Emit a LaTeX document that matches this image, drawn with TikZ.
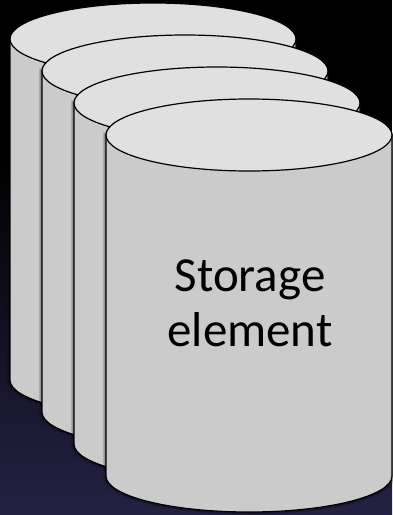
\documentclass[tikz,border=0pt]{standalone}
\usepackage{xcolor}
\usepackage{fontspec}
\setmainfont{Carlito}
\usepackage{tikz}
\definecolor{slidetop}{HTML}{000000}
\definecolor{slidebot}{HTML}{242244}
\definecolor{drumlid}{HTML}{E0E0E0}
\definecolor{drumside}{HTML}{CBCBCB}
\tikzset{
  drumbody/.style={fill=drumside, draw=black, line width=1.2pt,
    preaction={draw=black, draw opacity=.15, line width=6pt},
    preaction={draw=black, draw opacity=.2, line width=3.5pt}},
  drumtop/.style={fill=drumlid, draw=black, line width=1.2pt},
  drumtext/.style={align=center, font=\fontsize{49}{55}\selectfont, text=black}
}

\begin{document}
\begin{tikzpicture}[x=1pt, y=1pt]
    \useasboundingbox (0,0) rectangle (392,-515);
    \fill[slidetop] (0,0) rectangle (392,-151);
    \shade[top color=slidetop, bottom color=slidebot] (0,-150) rectangle (392,-515);
    % back to front
    \foreach \cx/\cy in {153/-39, 185/-71, 217/-103, 249/-135}{
      \draw[drumbody] (\cx-143,\cy) -- (\cx-143,\cy-341)
        arc[start angle=180, end angle=360, x radius=143, y radius=36]
        -- (\cx+143,\cy) -- cycle;
      \draw[drumtop] (\cx,\cy) ellipse[x radius=143, y radius=36];
    }
    \node[drumtext] (storage) at (250,-303) {Storage\\element};
  \end{tikzpicture}
\end{document}
